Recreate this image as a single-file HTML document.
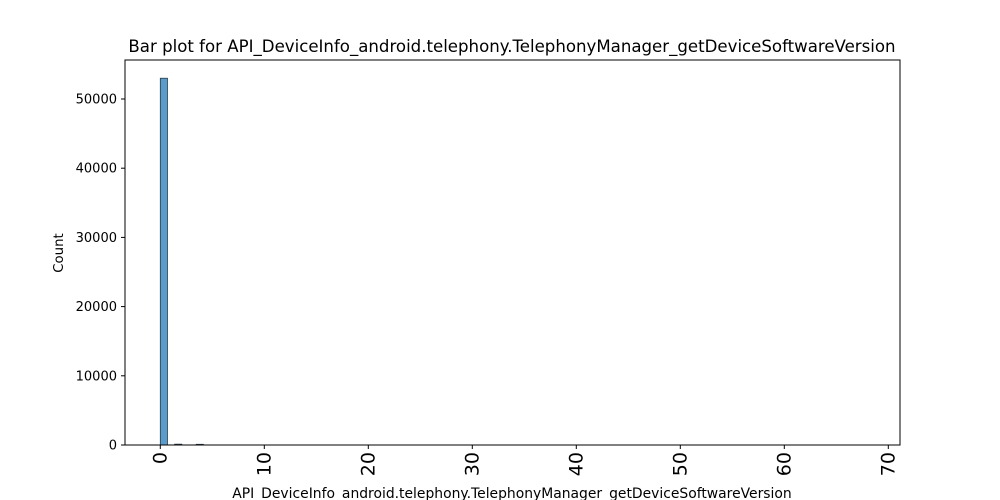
<!DOCTYPE html>
<html><head><meta charset="utf-8"><style>
body{margin:0;background:#fff;}
svg{display:block;font-family:"DejaVu Sans","Liberation Sans",sans-serif;}
</style></head><body>
<svg id="chart" width="1000" height="500">
<rect x="0" y="0" width="1000" height="500" fill="#fff"/>
<text x="512" y="52" font-size="16.6" text-anchor="middle">Bar plot for API_DeviceInfo_android.telephony.TelephonyManager_getDeviceSoftwareVersion</text>
<g id="bars"></g>
<g id="yticks"></g>
<g id="xticks"></g>
<rect x="125" y="60" width="775" height="385" fill="none" stroke="#000" stroke-width="1"/>
<text x="63" y="253" font-size="13.3" text-anchor="middle" transform="rotate(-90 63 253)">Count</text>
<text x="512" y="498" font-size="13.9" text-anchor="middle">API_DeviceInfo_android.telephony.TelephonyManager_getDeviceSoftwareVersion</text>
</svg>
<script>
const binStarts=[0,1.38,3.45];
const counts=[53000,120,100];
const binWidth=0.69;
const yTickValues=[0,10000,20000,30000,40000,50000];
const xTickValues=[0,10,20,30,40,50,60,70];
const NS="http://www.w3.org/2000/svg";
function xs(v){return 160.3+v*10.4;}
function ys(v){return 445-v*(346/50000);}
const bars=document.getElementById('bars');
binStarts.forEach((b,i)=>{
 const r=document.createElementNS(NS,'rect');
 const x0=xs(b),x1=xs(b+binWidth),y=ys(counts[i]);
 r.setAttribute('x',x0);r.setAttribute('y',y);
 r.setAttribute('width',x1-x0);r.setAttribute('height',Math.max(445-y,0.5));
 r.setAttribute('fill','#5a9bc9');r.setAttribute('stroke','#2a3a48');r.setAttribute('stroke-width','0.8');
 
 
 bars.appendChild(r);
});
const yt=document.getElementById('yticks');
yTickValues.forEach(v=>{
 const y=ys(v);
 const l=document.createElementNS(NS,'line');
 l.setAttribute('x1',121);l.setAttribute('x2',125);l.setAttribute('y1',y);l.setAttribute('y2',y);l.setAttribute('stroke','#000');
 
 
 yt.appendChild(l);
 const t=document.createElementNS(NS,'text');
 t.setAttribute('x',117);t.setAttribute('y',y+4.5);t.setAttribute('font-size','13');t.setAttribute('text-anchor','end');
 t.textContent=v;
 
 
 yt.appendChild(t);
});
const xt=document.getElementById('xticks');
xTickValues.forEach(v=>{
 const x=xs(v);
 const l=document.createElementNS(NS,'line');
 l.setAttribute('x1',x);l.setAttribute('x2',x);l.setAttribute('y1',445);l.setAttribute('y2',449);l.setAttribute('stroke','#000');
 
 
 xt.appendChild(l);
 const t=document.createElementNS(NS,'text');
 t.setAttribute('x',x+6);t.setAttribute('y',452);t.setAttribute('font-size','19');t.setAttribute('text-anchor','end');
 t.setAttribute('transform','rotate(-90 '+(x+6)+' 452)');
 t.textContent=v;
 
 
 xt.appendChild(t);
});
</script>
</body></html>
